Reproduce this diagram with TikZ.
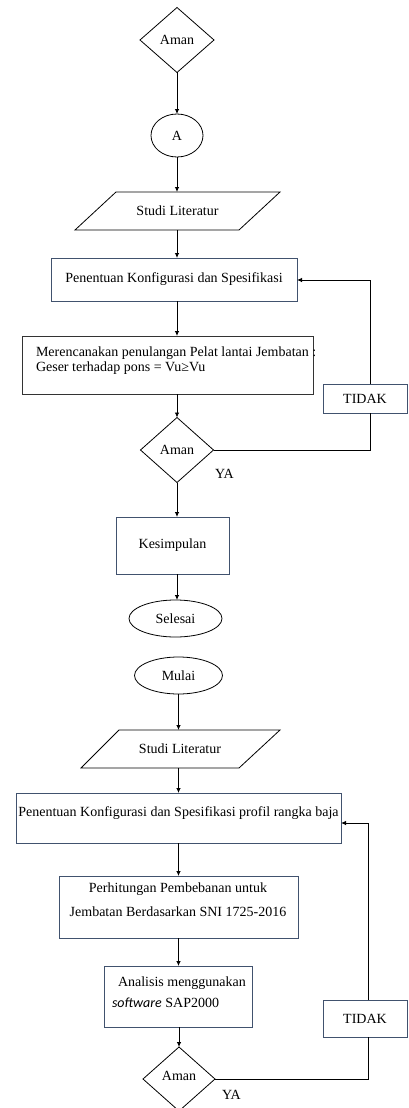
\documentclass[tikz,border=0pt]{standalone}
\usepackage{fontspec}
\setmainfont{Liberation Serif}
\newfontfamily\swfont{Carlito}
\usetikzlibrary{shapes.geometric,arrows.meta}
\definecolor{boxc}{RGB}{65,82,110}
\begin{document}
\begin{tikzpicture}[x=1pt,y=-1pt,
  font=\fontsize{14}{15}\selectfont,
  every node/.style={inner sep=0pt, outer sep=0pt},
  arr/.style={-{Latex[length=5pt,width=4.5pt]}, line width=0.8pt},
  ln/.style={line width=0.8pt},
  pbox/.style={draw=boxc, line width=0.8pt, rectangle},
  dec/.style={draw, diamond, line width=0.8pt},
  term/.style={draw, ellipse, line width=0.8pt},
  io/.style={rectangle, minimum height=38pt},
]
\useasboundingbox (0,0) rectangle (408,1108);

% ---------- upper chart ----------
\node[dec, minimum width=74pt, minimum height=65pt] (d1) at (177,40) {Aman};
\node[term, minimum width=52pt, minimum height=43pt] (cA) at (177,135.5) {A};
\node[io, minimum width=120pt] (p1) at (177.5,211) {Studi Literatur};
\draw[ln] (116,192) -- (280,192) -- (239,230) -- (75,230) -- cycle;
\node[pbox, minimum width=246pt, minimum height=43pt] (b1) at (174,279.5) {Penentuan Konfigurasi dan Spesifikasi};
\node[pbox, draw=black!80, minimum width=291pt, minimum height=58pt] (b2) at (167.5,365) {};
\node[anchor=west, align=left, font=\fontsize{14}{15.5}\selectfont] (b2t) at (36,360.5)
  {Merencanakan penulangan Pelat lantai Jembatan :\\ Geser terhadap pons = Vu≥Vu};
\node[dec, minimum width=73pt, minimum height=65pt] (d2) at (177,450) {Aman};
\node[anchor=west] (ya1) at (215,474) {YA};
\node[pbox, minimum width=84pt, minimum height=29pt] (t1) at (365,398.5) {TIDAK};
\node[pbox, minimum width=113pt, minimum height=57pt] (k) at (172.5,545.5) {Kesimpulan};
\node[term, minimum width=93pt, minimum height=37pt] (sel) at (175.5,618.5) {Selesai};

\draw[arr] (d1.south) -- (cA.north);
\draw[arr] (cA.south) -- (cA.south |- p1.north);
\draw[arr] (p1.south -| cA) -- (cA |- b1.north);
\draw[arr] (b1.south -| cA) -- (cA |- b2.north);
\draw[arr] (b2.south -| d2) -- (d2.north);
\draw[arr] (d2.south) -- (d2.south |- k.north);
\draw[arr] (k.south -| d2) -- (d2 |- sel.north);
\draw[ln] (d2.east) -- (370,450) -- (370,413);
\draw[arr] (370,384) -- (370,280) -- (b1.east |- 0,280);

% ---------- lower chart ----------
\node[term, minimum width=88pt, minimum height=37pt] (mul) at (178.5,675.5) {Mulai};
\node[io, minimum width=120pt] (p2) at (180,749) {Studi Literatur};
\draw[ln] (119,730) -- (280,730) -- (239,768) -- (81,768) -- cycle;
\node[pbox, minimum width=325pt, minimum height=50pt] (b3) at (178.5,818) {};
\node (b3t) at (178.5,813) {Penentuan Konfigurasi dan Spesifikasi profil rangka baja};
\node[pbox, minimum width=239pt, minimum height=62pt] (b4) at (178.5,907) {};
\node[align=center, font=\fontsize{14}{24}\selectfont] (b4t) at (178,899.5)
  {Perhitungan Pembebanan untuk\\ Jembatan Berdasarkan SNI 1725-2016};
\node[pbox, minimum width=148pt, minimum height=61pt] (b5) at (178,996.5) {};
\node[anchor=west, align=left, font=\fontsize{14}{21}\selectfont] (b5t) at (112,992.5)
  {\hspace{6pt}Analisis menggunakan\\ {\swfont\itshape software} SAP2000};
\node[dec, minimum width=72pt, minimum height=64pt] (d3) at (179,1079) {};
\node (d3t) at (179,1076) {Aman};
\node[anchor=west] (ya2) at (222,1095) {YA};
\node[pbox, minimum width=84pt, minimum height=37pt] (t2) at (365,1018.5) {TIDAK};

\draw[arr] (mul.south) -- (mul.south |- p2.north);
\draw[arr] (p2.south -| mul) -- (mul |- b3.north);
\draw[arr] (b3.south -| mul) -- (mul |- b4.north);
\draw[arr] (b4.south -| mul) -- (mul |- b5.north);
\draw[arr] (b5.south -| d3) -- (d3.north);
\draw[ln] (d3.east) -- (368,1079) -- (368,1037);
\draw[arr] (368,1000) -- (368,823) -- (b3.east |- 0,823);
\end{tikzpicture}
\end{document}
